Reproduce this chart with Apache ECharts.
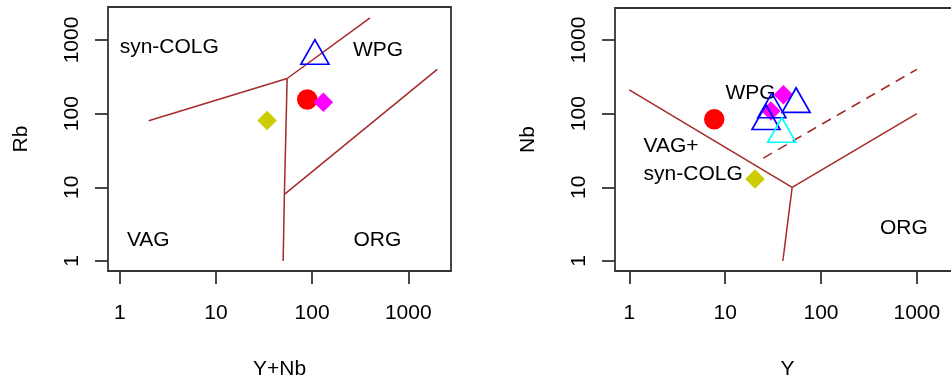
<!DOCTYPE html>
<html>
<head>
<meta charset="utf-8">
<script src="https://cdn.jsdelivr.net/npm/echarts@6/dist/echarts.min.js"></script>
<style>
  html, body { margin: 0; padding: 0; background: #ffffff; }
  #chart { width: 951px; height: 379px; }
</style>
</head>
<body>
<div id="chart"></div>
<script>
// Granite tectonic discrimination diagrams (Pearce et al., 1984)

// Axis tick values (log scale)
const tickValues = [1, 10, 100, 1000];

// Rb vs (Y+Nb): field boundaries
const rbVagColg = [[2, 80], [55, 300]];
const rbColgWpg = [[55, 300], [400, 2000]];
const rbVagOrgUpper = [[55, 300], [51.5, 8]];
const rbVagOrgLower = [[51.5, 8], [50, 1]];
const rbWpgOrg = [[51.5, 8], [2000, 400]];

// Nb vs Y: field boundaries
const nbVagWpg = [[1, 210], [50, 10]];
const nbWpgOrg = [[50, 10], [1000, 100]];
const nbVagOrg = [[50, 10], [40, 1]];
const nbOrgDashed = [[25, 25], [1000, 400]];

// Samples on the Rb vs (Y+Nb) diagram: [Y+Nb, Rb]
const rbRed = [[89, 156]];
const rbMagenta = [[131, 143]];
const rbYellow = [[34, 81]];
const rbBlue = [[107, 606]];

// Samples on the Nb vs Y diagram: [Y, Nb]
const nbRed = [[7.7, 84]];
const nbMagenta = [[40.5, 181], [30, 109]];
const nbYellow = [[20.5, 13]];
const nbBlue = [[55, 135], [30.7, 114], [26.7, 79]];
const nbCyan = [[39, 53]];

// Field names: [x, y, text]
const rbFieldNames = [[3.27, 791, 'syn-COLG'], [484, 738, 'WPG'], [1.98, 1.94, 'VAG'], [478, 1.94, 'ORG']];
const nbFieldNames = [[18.4, 189, 'WPG'], [731, 2.78, 'ORG']];
const nbFieldNamesLeft = [[1.41, 36.5, 'VAG+'], [1.41, 15.0, 'syn-COLG']];

const FONT = 'Liberation Sans, Arial, Helvetica, sans-serif';
const BROWN = '#A52A2A';
const INK = '#000000';

function logAxis(gridIndex, min, max, name, nameGap, isY) {
  return {
    type: 'log',
    logBase: 10,
    gridIndex: gridIndex,
    min: min,
    max: max,
    name: name,
    nameLocation: 'middle',
    nameGap: nameGap,
    nameRotate: isY ? 90 : 0,
    nameTextStyle: { fontFamily: FONT, fontSize: 21, color: INK },
    axisLine: { show: false },
    axisTick: {
      show: true, length: 13, inside: false, customValues: tickValues,
      lineStyle: { color: '#333', width: 1.8 }
    },
    axisLabel: {
      show: true, customValues: tickValues,
      rotate: isY ? 90 : 0,
      margin: isY ? 25 : 32,
      fontFamily: FONT, fontSize: 21, color: INK,
      formatter: function (v) { return String(Math.round(v)); }
    },
    splitLine: { show: false },
    minorTick: { show: false },
    minorSplitLine: { show: false }
  };
}

function boundary(data, gi, dashed) {
  return {
    type: 'line', xAxisIndex: gi, yAxisIndex: gi, data: data,
    symbol: 'none', silent: true, z: 2,
    lineStyle: { color: BROWN, width: 1.5, type: dashed ? [10, 7] : 'solid' }
  };
}

function points(data, gi, symbol, size, fill, stroke, z, offset) {
  return {
    type: 'scatter', xAxisIndex: gi, yAxisIndex: gi, data: data,
    symbol: symbol, symbolSize: size, symbolOffset: offset || [0, 0],
    silent: true, z: z,
    itemStyle: {
      color: fill, opacity: 1,
      borderColor: stroke || fill, borderWidth: stroke ? 1.7 : 0
    }
  };
}

function fieldNames(rows, gi, align) {
  return {
    type: 'scatter', xAxisIndex: gi, yAxisIndex: gi,
    data: rows.map(r => ({ value: [r[0], r[1]], name: r[2] })),
    symbolSize: 0, silent: true, z: 3,
    itemStyle: { opacity: 1 },
    label: {
      show: true, position: 'inside', formatter: p => p.name,
      align: align, verticalAlign: 'middle',
      fontFamily: FONT, fontSize: 21, color: INK, opacity: 1
    }
  };
}

const TRI = [28, 24.5];
const TRI_OFF = [0, -4];
const DIA = [19.5, 19.5];
const DOT = 20.5;

const gridBase = {
  show: true, borderColor: '#333', borderWidth: 1.8, backgroundColor: 'transparent',
  containLabel: false, outerBoundsMode: 'none'
};

const chart = echarts.init(document.getElementById('chart'), null, { renderer: 'canvas' });
chart.setOption({
  animation: false,
  backgroundColor: '#ffffff',
  grid: [
    Object.assign({ left: 108, top: 7, width: 343, height: 264 }, gridBase),
    Object.assign({ left: 615, top: 8, width: 345, height: 263 }, gridBase)
  ],
  xAxis: [
    logAxis(0, 0.755, 2780, 'Y+Nb', 88, false),
    logAxis(1, 0.71, 2818, 'Y', 88, false)
  ],
  yAxis: [
    logAxis(0, 0.731, 2805, 'Rb', 76, true),
    logAxis(1, 0.731, 2723, 'Nb', 76, true)
  ],
  series: [
    boundary(rbVagColg, 0), boundary(rbColgWpg, 0), boundary(rbVagOrgUpper, 0),
    boundary(rbVagOrgLower, 0), boundary(rbWpgOrg, 0),
    fieldNames(rbFieldNames, 0, 'center'),
    points(rbYellow, 0, 'diamond', DIA, '#CCCC00', null, 5),
    points(rbRed, 0, 'circle', DOT, '#FF0000', null, 5),
    points(rbMagenta, 0, 'diamond', DIA, '#FF00FF', null, 5),
    points(rbBlue, 0, 'triangle', TRI, 'rgba(0,0,0,0)', '#0000FF', 6, TRI_OFF),

    boundary(nbVagWpg, 1), boundary(nbWpgOrg, 1), boundary(nbVagOrg, 1),
    boundary(nbOrgDashed, 1, true),
    fieldNames(nbFieldNames, 1, 'center'),
    fieldNames(nbFieldNamesLeft, 1, 'left'),
    points(nbRed, 1, 'circle', DOT, '#FF0000', null, 5),
    points(nbYellow, 1, 'diamond', DIA, '#CCCC00', null, 5),
    points(nbMagenta, 1, 'diamond', DIA, '#FF00FF', null, 5),
    points(nbBlue, 1, 'triangle', TRI, 'rgba(0,0,0,0)', '#0000FF', 6, TRI_OFF),
    points(nbCyan, 1, 'triangle', TRI, 'rgba(0,0,0,0)', '#00FFFF', 7, TRI_OFF)
  ]
});
</script>
</body>
</html>
